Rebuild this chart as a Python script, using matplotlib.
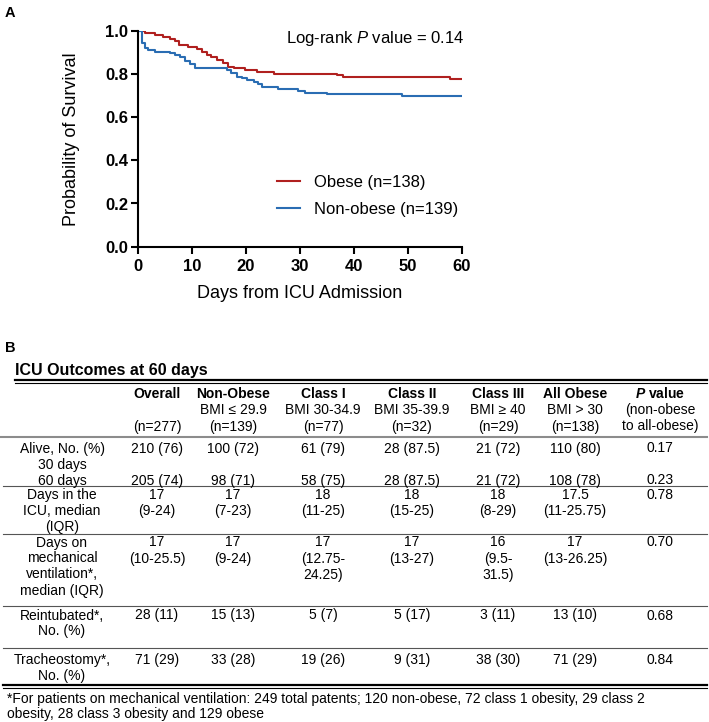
import matplotlib
matplotlib.use("Agg")
import matplotlib.pyplot as plt
from matplotlib.ticker import FormatStrFormatter

plt.rcParams['font.family'] = ['Liberation Sans', 'DejaVu Sans']
plt.rcParams['mathtext.fontset'] = 'custom'
plt.rcParams['mathtext.rm'] = 'Liberation Sans'
plt.rcParams['mathtext.it'] = 'Liberation Sans:italic'
plt.rcParams['mathtext.bf'] = 'Liberation Sans:bold'
plt.rcParams['mathtext.bfit'] = 'Liberation Sans:italic:bold'

# --- panel A: Kaplan-Meier curves ---
obese_days = [0, 1.3, 3.1, 4.7, 5.9, 6.9, 7.5, 9.3, 10.9, 11.8, 12.7, 13.6, 14.6,
              15.8, 16.7, 17.7, 19.8, 22, 25.1, 36.8, 38, 57.8, 60]
obese_surv = [1.0, 0.988, 0.98, 0.972, 0.962, 0.95, 0.934, 0.926, 0.914, 0.903, 0.888,
              0.877, 0.864, 0.849, 0.833, 0.826, 0.818, 0.81, 0.80, 0.794, 0.784, 0.775, 0.775]
nonobese_days = [0, 0.7, 1.3, 1.9, 3.1, 5.9, 6.9, 7.8, 8.7, 9.6, 10.6, 16.4, 17.3, 18.3,
                 19.2, 20.1, 21.4, 22.3, 22.9, 26, 29.7, 31, 35, 48.8, 60]
nonobese_surv = [1.0, 0.942, 0.918, 0.911, 0.903, 0.895, 0.888, 0.877, 0.861, 0.846, 0.829,
                 0.818, 0.803, 0.787, 0.78, 0.772, 0.764, 0.752, 0.741, 0.73, 0.721, 0.713,
                 0.705, 0.698, 0.698]

# --- panel B: table ---
col_names = ["Overall", "Non-Obese", "Class I", "Class II", "Class III", "All Obese"]
col_bmi = ["", "BMI ≤ 29.9", "BMI 30-34.9", "BMI 35-39.9", "BMI ≥ 40", "BMI > 30"]
col_n = ["(n=277)", "(n=139)", "(n=77)", "(n=32)", "(n=29)", "(n=138)"]
alive30 = ["210 (76)", "100 (72)", "61 (79)", "28 (87.5)", "21 (72)", "110 (80)"]
alive60 = ["205 (74)", "98 (71)", "58 (75)", "28 (87.5)", "21 (72)", "108 (78)"]
icu_days = [["17", "(9-24)"], ["17", "(7-23)"], ["18", "(11-25)"], ["18", "(15-25)"],
            ["18", "(8-29)"], ["17.5", "(11-25.75)"]]
vent_days = [["17", "(10-25.5)"], ["17", "(9-24)"], ["17", "(12.75-", "24.25)"],
             ["17", "(13-27)"], ["16", "(9.5-", "31.5)"], ["17", "(13-26.25)"]]
reintubated = ["28 (11)", "15 (13)", "5 (7)", "5 (17)", "3 (11)", "13 (10)"]
tracheostomy = ["71 (29)", "33 (28)", "19 (26)", "9 (31)", "38 (30)", "71 (29)"]
p_values = ["0.17", "0.23", "0.78", "0.70", "0.68", "0.84"]

fig = plt.figure(figsize=(7.09, 7.22), dpi=100)
W, H = 709, 722

# table canvas in pixel coords
tab = fig.add_axes([0, 0, 1, 1])
tab.set_xlim(0, W)
tab.set_ylim(H, 0)
tab.axis('off')

fs = 10
lh = 16
col_x = [157, 233, 323, 412, 498, 575]
p_x = 660
lab_x = 62

def cell(x, y, lines, **kw):
    for i, s in enumerate(lines):
        tab.text(x, y + i * lh, s, ha='center', va='center', fontsize=fs, **kw)

tab.text(5, 348, "B", fontsize=10.5, fontweight='bold', va='center')
tab.text(15, 370, "ICU Outcomes at 60 days", fontsize=11.5, fontweight='bold', va='center')
tab.plot([15, 707], [379.5, 379.5], color='black', lw=1.6)
tab.plot([15, 707], [383, 383], color='black', lw=0.8)

# header
for x, nm, bmi, n in zip(col_x, col_names, col_bmi, col_n):
    tab.text(x, 393.5, nm, ha='center', va='center', fontsize=fs, fontweight='bold')
    if bmi:
        tab.text(x, 410, bmi, ha='center', va='center', fontsize=fs)
    tab.text(x, 426.5, n, ha='center', va='center', fontsize=fs)
tab.text(p_x, 393.5, r"$\mathbfit{P}$ value", ha='center', va='center', fontsize=fs,
         fontweight='bold')
cell(p_x, 410, ["(non-obese", "to all-obese)"])
tab.plot([0, 707], [436.5, 436.5], color='#8c8c8c', lw=1.5)

# alive
cell(lab_x, 448.5, ["Alive, No. (%)", "30 days", "60 days"])
for x, a30, a60 in zip(col_x, alive30, alive60):
    cell(x, 448.5, [a30])
    cell(x, 480.5, [a60])
cell(p_x, 448.5, [p_values[0]])
cell(p_x, 480.5, [p_values[1]])
tab.plot([3, 707], [486, 486], color='#555555', lw=0.8)

# ICU days
cell(lab_x, 495, ["Days in the", "ICU, median", "(IQR)"])
for x, v in zip(col_x, icu_days):
    cell(x, 495, v)
cell(p_x, 495, [p_values[2]])
tab.plot([3, 707], [533.5, 533.5], color='#555555', lw=0.8)

# ventilation days
cell(lab_x, 542.5, ["Days on", "mechanical", "ventilation*,", "median (IQR)"])
for x, v in zip(col_x, vent_days):
    cell(x, 542.5, v)
cell(p_x, 542.5, [p_values[3]])
tab.plot([3, 707], [606, 606], color='#555555', lw=0.8)

# reintubated
cell(lab_x, 615.5, ["Reintubated*,", "No. (%)"])
for x, v in zip(col_x, reintubated):
    cell(x, 615.5, [v])
cell(p_x, 615.5, [p_values[4]])
tab.plot([3, 707], [648, 648], color='#555555', lw=0.8)

# tracheostomy
cell(lab_x, 660, ["Tracheostomy*,", "No. (%)"])
for x, v in zip(col_x, tracheostomy):
    cell(x, 660, [v])
cell(p_x, 660, [p_values[5]])
tab.plot([3, 707], [684.5, 684.5], color='black', lw=1.6)
tab.plot([3, 707], [688, 688], color='black', lw=0.8)

tab.text(7, 699, "*For patients on mechanical ventilation: 249 total patents; 120 non-obese, "
         "72 class 1 obesity, 29 class 2", fontsize=fs, va='center')
tab.text(7, 714, "obesity, 28 class 3 obesity and 129 obese", fontsize=fs, va='center')

# --- KM plot ---
ax = fig.add_axes([138 / W, 1 - 246.7 / H, 324 / W, 216 / H])
ax.step(obese_days, obese_surv, where='post', color='#b0201f', lw=1.5,
        label='Obese (n=138)')
ax.step(nonobese_days, nonobese_surv, where='post', color='#2a6db3', lw=1.5,
        label='Non-obese (n=139)')
ax.set_xlim(0, 60)
ax.set_ylim(0, 1.0)
ax.set_xticks(range(0, 61, 10))
ax.set_yticks([0, 0.2, 0.4, 0.6, 0.8, 1.0])
ax.yaxis.set_major_formatter(FormatStrFormatter('%.1f'))
ax.spines['top'].set_visible(False)
ax.spines['right'].set_visible(False)
for s in ['left', 'bottom']:
    ax.spines[s].set_linewidth(1.5)
ax.tick_params(direction='out', length=5, width=1.5, labelsize=12)
ax.tick_params(axis='x', pad=4)
ax.tick_params(axis='y', pad=2)
for lbl in ax.get_xticklabels() + ax.get_yticklabels():
    lbl.set_fontweight('bold')
ax.set_xlabel("Days from ICU Admission", fontsize=13)
ax.set_ylabel("Probability of Survival", fontsize=13)
ax.xaxis.set_label_coords(0.5, -0.177)
ax.yaxis.set_label_coords(-0.179, 0.5)
ax.text(0.457, 0.966, r"Log-rank $\it{P}$ value = 0.14", transform=ax.transAxes,
        fontsize=12, va='center', ha='left')
ax.legend(loc='center left', bbox_to_anchor=(0.429, 0.235), frameon=False, fontsize=12,
          handlelength=1.4, handletextpad=0.8, labelspacing=0.75, borderpad=0,
          borderaxespad=0)
fig.text(5 / W, 1 - 13 / H, "A", fontsize=10.5, fontweight='bold', va='center')

fig.savefig("out.png", dpi=100)
